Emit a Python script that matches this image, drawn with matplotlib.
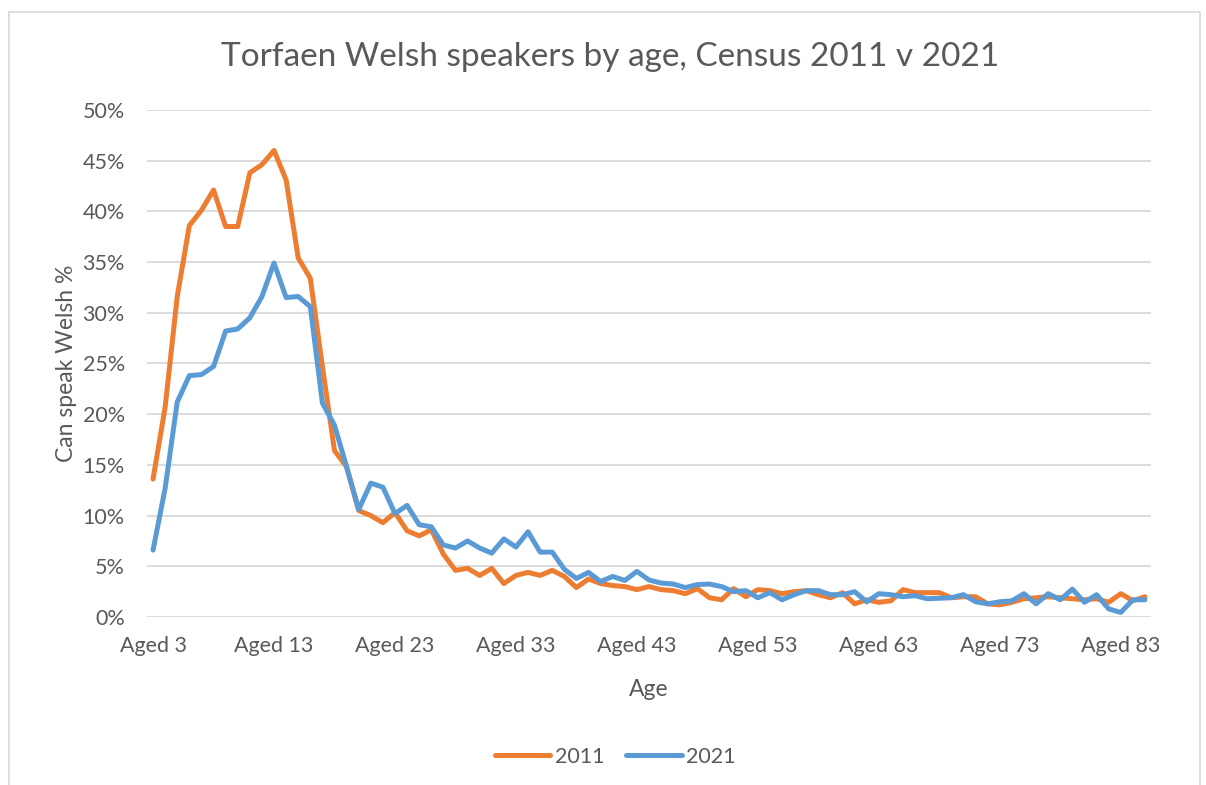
import numpy as np
import matplotlib.pyplot as plt
from matplotlib.patches import Rectangle

plt.rcParams['font.family'] = ['Lato', 'DejaVu Sans']

ages = list(range(3, 86))
labels = ["Aged %d" % a for a in ages]

# % able to speak Welsh
pct_2011 = [13.6, 20.7, 31.6, 38.6, 40.1, 42.1, 38.5, 38.5, 43.8, 44.6,
            46.0, 43.1, 35.4, 33.4, 24.7, 16.4, 14.8, 10.5, 10.0, 9.3,
            10.3, 8.5, 8.0, 8.6, 6.2, 4.6, 4.8, 4.1, 4.8, 3.3,
            4.1, 4.4, 4.1, 4.6, 4.0, 2.9, 3.75, 3.3, 3.1, 3.0,
            2.7, 3.0, 2.7, 2.6, 2.3, 2.8, 1.9, 1.7, 2.8, 2.0,
            2.7, 2.6, 2.3, 2.5, 2.6, 2.2, 1.9, 2.4, 1.3, 1.7,
            1.45, 1.6, 2.7, 2.4, 2.4, 2.4, 1.9, 2.0, 2.0, 1.3,
            1.2, 1.45, 1.8, 1.9, 2.0, 1.9, 1.8, 1.7, 1.8, 1.45,
            2.3, 1.6, 2.0]
pct_2021 = [6.6, 12.7, 21.2, 23.8, 23.9, 24.7, 28.2, 28.4, 29.5, 31.6,
            34.9, 31.5, 31.6, 30.6, 21.1, 18.9, 14.8, 10.6, 13.2, 12.8,
            10.2, 11.0, 9.1, 8.9, 7.1, 6.8, 7.5, 6.8, 6.3, 7.7,
            6.9, 8.4, 6.4, 6.4, 4.7, 3.8, 4.4, 3.5, 4.0, 3.6,
            4.5, 3.65, 3.35, 3.25, 2.9, 3.2, 3.25, 3.0, 2.5, 2.6,
            1.9, 2.4, 1.7, 2.2, 2.6, 2.6, 2.2, 2.2, 2.5, 1.5,
            2.3, 2.2, 2.0, 2.1, 1.8, 1.85, 1.9, 2.2, 1.5, 1.3,
            1.5, 1.6, 2.3, 1.3, 2.3, 1.7, 2.75, 1.45, 2.2, 0.8,
            0.45, 1.7, 1.7]

text_col = '#595959'
grid_col = '#d9d9d9'

fig = plt.figure(figsize=(12.06, 7.85), dpi=100)
fig.patches.append(Rectangle((0.0075, -0.02), 0.9876, 1.0047, transform=fig.transFigure,
                             fill=False, edgecolor=grid_col, linewidth=1.2))

ax = fig.add_axes([0.1219, 0.214, 0.8325, 0.646])
x = np.arange(len(ages))
ax.plot(x, pct_2011, color='#ED7D31', lw=3.6, label='2011', solid_capstyle='round')
ax.plot(x, pct_2021, color='#5B9BD5', lw=3.6, label='2021', solid_capstyle='round')

ax.set_xlim(-0.5, len(ages) - 0.5)
ax.set_ylim(0, 50)
ax.set_yticks(range(0, 51, 5))
ax.set_yticklabels(["%d%%" % v for v in range(0, 51, 5)])
ax.set_xticks(x[::10])
ax.set_xticklabels(labels[::10])
ax.grid(axis='y', color=grid_col, lw=1.3)
ax.set_axisbelow(True)
for s in ax.spines.values():
    s.set_visible(False)
ax.tick_params(length=0, labelsize=15.5, labelcolor=text_col)
ax.tick_params(axis='y', pad=16)
ax.tick_params(axis='x', pad=14)

# title is centred on the whole chart box, not on the plot area
fig.text(0.506, 0.927, 'Torfaen Welsh speakers by age, Census 2011 v 2021', fontsize=24,
         color=text_col, ha='center', va='center')
ax.set_xlabel('Age', fontsize=16.5, color=text_col, labelpad=16)
ax.set_ylabel('Can speak Welsh %', fontsize=16.5, color=text_col, labelpad=4)

leg = fig.legend(loc='center', bbox_to_anchor=(0.51, 0.036), ncol=2, frameon=False,
                 fontsize=15.5, handlelength=2.6, columnspacing=1.0, handletextpad=0.2)
for t in leg.get_texts():
    t.set_color(text_col)

fig.savefig('out.png', dpi=100)
